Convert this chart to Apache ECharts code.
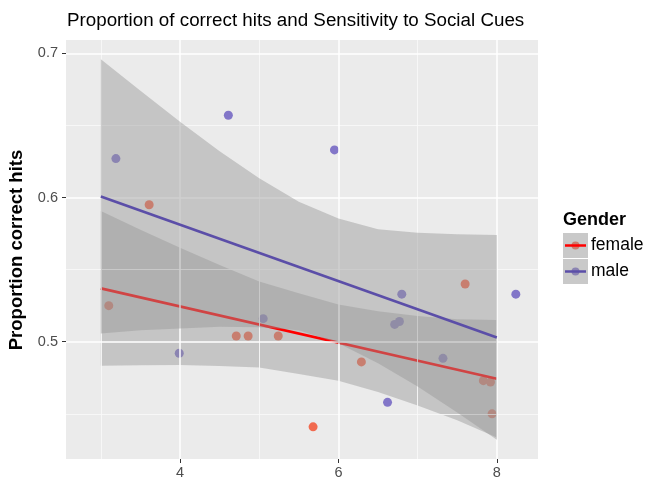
<!DOCTYPE html>
<html><head><meta charset="utf-8">
<script src="https://cdn.jsdelivr.net/npm/echarts@6/dist/echarts.min.js"></script>
<style>html,body{margin:0;padding:0;background:#fff}#c{width:646px;height:481px}</style>
</head><body><div id="c"></div>
<script>
// ---- data ----
const groups = ['female', 'male'];
const femaleX = [3.10, 3.61, 4.71, 4.86, 5.24, 5.68, 6.29, 7.60, 7.83, 7.92, 7.94];
const femaleY = [0.525, 0.595, 0.504, 0.504, 0.504, 0.441, 0.486, 0.540, 0.473, 0.472, 0.450];
const maleX = [3.19, 3.99, 4.61, 5.05, 5.95, 6.62, 6.71, 6.77, 6.80, 7.32, 8.24];
const maleY = [0.627, 0.492, 0.657, 0.516, 0.633, 0.458, 0.512, 0.514, 0.533, 0.4885, 0.533];
const fitX = [3, 8];
const femaleFit = [0.537, 0.4743];
const maleFit = [0.6007, 0.503];
const bandX = [3, 3.5, 4, 4.5, 5, 5.5, 6, 6.5, 7, 7.5, 8];
const femaleUpper = [0.5906, 0.5777, 0.5652, 0.5532, 0.5417, 0.5337, 0.5259, 0.5211, 0.5178, 0.5156, 0.5150];
const femaleLower = [0.4834, 0.4837, 0.4838, 0.4832, 0.4821, 0.4777, 0.4729, 0.4651, 0.4558, 0.4456, 0.4336];
const maleUpper = [0.6958, 0.6740, 0.6526, 0.6320, 0.6133, 0.5970, 0.5855, 0.5780, 0.5755, 0.5745, 0.5740];
const maleLower = [0.5057, 0.5080, 0.5092, 0.5104, 0.5101, 0.5080, 0.4990, 0.4850, 0.4690, 0.4510, 0.4320];
const xTicks = [4, 6, 8];
const xMinor = [3, 5, 7];
const yTicks = [0.5, 0.6, 0.7];
const yMinor = [0.45, 0.55, 0.65];

// ---- style ----
const FONT = '"Liberation Sans", Arial, Helvetica, sans-serif';
const bandFill = 'rgba(150,150,150,0.45)';
const pointColor = { female: '#F16A4F', male: '#8276C8' };
const lineColor = { female: '#FF0000', male: '#5B4EA8' };

function pairs(xs, ys) { return xs.map((x, i) => [x, ys[i]]); }

function bandSeries(name, upper, lower, z) {
  return {
    type: 'custom', name: name + ' band', z: z, silent: true,
    coordinateSystem: 'cartesian2d',
    data: [[bandX[0], upper[0]]],
    renderItem: function (params, api) {
      const pts = [];
      for (let i = 0; i < bandX.length; i++) pts.push(api.coord([bandX[i], upper[i]]));
      for (let i = bandX.length - 1; i >= 0; i--) pts.push(api.coord([bandX[i], lower[i]]));
      return { type: 'polygon', shape: { points: pts }, style: { fill: bandFill } };
    }
  };
}

const gridLines = [];
yMinor.forEach(v => gridLines.push({ yAxis: v, lineStyle: { color: '#F8F8F8', width: 0.9, type: 'solid' } }));
xMinor.forEach(v => gridLines.push({ xAxis: v, lineStyle: { color: '#F8F8F8', width: 0.9, type: 'solid' } }));
yTicks.forEach(v => gridLines.push({ yAxis: v, lineStyle: { color: '#FFFFFF', width: 1.5, type: 'solid' } }));
xTicks.forEach(v => gridLines.push({ xAxis: v, lineStyle: { color: '#FFFFFF', width: 1.5, type: 'solid' } }));

const chart = echarts.init(document.getElementById('c'), null, { renderer: 'canvas' });

// legend built from group names
const legendEls = [
  { type: 'text', left: 563, top: 211, style: { text: 'Gender', font: 'bold 18px ' + FONT, fill: '#000' } }
];
groups.forEach((g, i) => {
  const y0 = 233 + i * 26;
  legendEls.push({ type: 'rect', shape: { x: 563, y: y0, width: 25, height: 25 }, style: { fill: '#F2F2F2' } });
  legendEls.push({ type: 'circle', shape: { cx: 575.5, cy: y0 + 12.5, r: 4 }, style: { fill: pointColor[g] } });
  legendEls.push({ type: 'rect', shape: { x: 563, y: y0, width: 25, height: 25 }, style: { fill: bandFill } });
  legendEls.push({ type: 'line', shape: { x1: 565, y1: y0 + 12.5, x2: 586, y2: y0 + 12.5 }, style: { stroke: lineColor[g], lineWidth: 2.5 } });
  legendEls.push({ type: 'text', left: 591, top: y0 + 3, style: { text: g, font: '17.5px ' + FONT, fill: '#000' } });
});
legendEls.push({
  type: 'text', x: 17, y: 250, rotation: Math.PI / 2,
  style: { text: 'Proportion correct hits', font: 'bold 18.5px ' + FONT, fill: '#000', align: 'center', verticalAlign: 'middle' }
});

chart.setOption({
  animation: false,
  backgroundColor: '#FFFFFF',
  title: {
    text: 'Proportion of correct hits and Sensitivity to Social Cues',
    left: 62, top: 6,
    textStyle: { fontFamily: FONT, fontSize: 18.8, fontWeight: 'normal', color: '#000' }
  },
  grid: { left: 66, right: 108, top: 40, bottom: 22, show: true, backgroundColor: '#EBEBEB', borderWidth: 0 },
  xAxis: {
    type: 'value', min: 2.56, max: 8.52,
    axisLine: { show: false }, splitLine: { show: false },
    axisTick: { show: true, customValues: xTicks, length: 4, lineStyle: { color: '#333333', width: 1 } },
    axisLabel: { customValues: xTicks, color: '#4D4D4D', fontSize: 14.5, fontFamily: FONT, margin: 6 }
  },
  yAxis: {
    type: 'value', min: 0.4187, max: 0.7092,
    axisLine: { show: false }, splitLine: { show: false },
    axisTick: { show: true, customValues: yTicks, length: 4, lineStyle: { color: '#333333', width: 1 } },
    axisLabel: { customValues: yTicks, color: '#4D4D4D', fontSize: 14.5, fontFamily: FONT, margin: 8,
      formatter: v => v.toFixed(1) }
  },
  graphic: legendEls,
  series: [
    { type: 'line', name: 'grid', data: [], z: 1, silent: true,
      markLine: { silent: true, animation: false, symbol: ['none', 'none'], label: { show: false },
        emphasis: { disabled: true }, data: gridLines } },
    { type: 'scatter', name: 'female points', z: 2, data: pairs(femaleX, femaleY), symbolSize: 9,
      itemStyle: { color: pointColor.female, opacity: 1 }, silent: true },
    { type: 'scatter', name: 'male points', z: 2, data: pairs(maleX, maleY), symbolSize: 9,
      itemStyle: { color: pointColor.male, opacity: 1 }, silent: true },
    bandSeries('female', femaleUpper, femaleLower, 3),
    { type: 'line', name: 'female', z: 4, data: pairs(fitX, femaleFit), showSymbol: false, silent: true,
      lineStyle: { color: lineColor.female, width: 2.6 } },
    bandSeries('male', maleUpper, maleLower, 5),
    { type: 'line', name: 'male', z: 6, data: pairs(fitX, maleFit), showSymbol: false, silent: true,
      lineStyle: { color: lineColor.male, width: 2.6 } }
  ]
});
</script>
</body></html>
